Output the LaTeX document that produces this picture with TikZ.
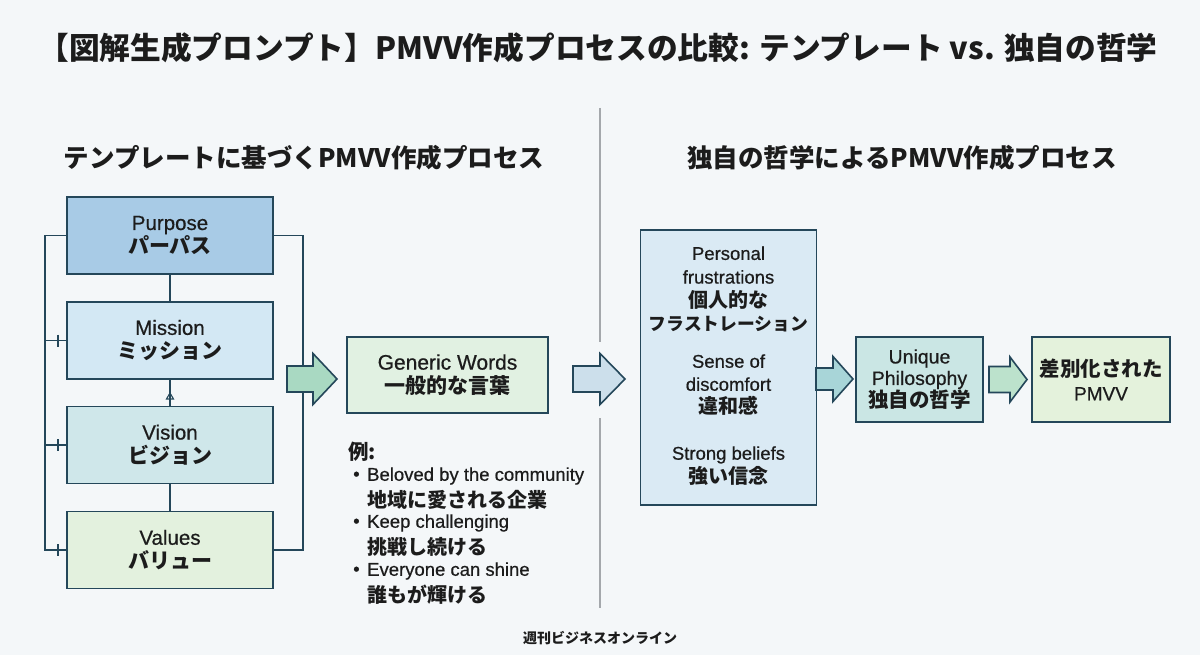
\documentclass[tikz,border=0pt]{standalone}
\usepackage{fontspec}
\setmainfont{Noto Sans CJK JP}
\newfontfamily\jp{Noto Sans CJK JP}
\newfontfamily\en{Liberation Sans}[FakeBold=0.6]
\definecolor{bg}{HTML}{F4F7F9}
\definecolor{bd}{HTML}{24475A}
\definecolor{tx}{HTML}{1C1C1C}
\definecolor{purp}{HTML}{A8CBE6}
\definecolor{miss}{HTML}{D3E8F4}
\definecolor{visi}{HTML}{CFE7EA}
\definecolor{valu}{HTML}{E3F1DE}
\definecolor{genf}{HTML}{E1F1E2}
\definecolor{bigf}{HTML}{DAEAF4}
\definecolor{uniq}{HTML}{CAE6E4}
\definecolor{finf}{HTML}{E4F2DC}
\definecolor{arA}{HTML}{A9D9C2}
\definecolor{arB}{HTML}{CCDFEB}
\definecolor{arC}{HTML}{A8D5D8}
\definecolor{arD}{HTML}{BCE2CC}
\definecolor{divc}{HTML}{A4A8AC}
\newcommand\EN[1]{{\en\fontsize{20.5}{24}\selectfont #1}}
\newcommand\ENs[1]{{\en\fontsize{18.5}{24}\selectfont #1}}
\newcommand\JB[1]{{\jp\bfseries\fontsize{21}{24}\selectfont #1}}
\newcommand\JBs[1]{{\jp\bfseries\fontsize{20}{24}\selectfont #1}}
\newcommand\blockarrow[7]{%
  \filldraw[barrow, fill=#1] (#2,#5-#6) -- (#3,#5-#6) -- (#3,#5-#7) -- (#4,#5) -- (#3,#5+#7) -- (#3,#5+#6) -- (#2,#5+#6) -- cycle;}
\begin{document}
\begin{tikzpicture}[x=1pt,y=-1pt,
  box/.style={draw=bd, line width=1.8pt, align=center, inner sep=0pt, text=tx,
    font=\fontsize{20}{24}\selectfont},
  lbox/.style={box, minimum width=206pt, minimum height=77pt},
  conn/.style={draw=bd, line width=1.8pt},
  tick/.style={draw=bd, line width=1.5pt},
  barrow/.style={draw=bd, line width=1.6pt, line join=miter},
  txt/.style={text=tx, inner sep=0pt, align=center, font=\fontsize{20}{24}\selectfont},
  divider/.style={draw=divc, line width=1.2pt}]
\fill[bg] (0,0) rectangle (1200,655);
\useasboundingbox (0,0) rectangle (1200,655);

% titles
\node[txt, font=\fontsize{30.7}{31}\selectfont\bfseries] (title) at (598,48)
  {【図解生成プロンプト】PMVV作成プロセスの比較: テンプレート vs. 独自の哲学};
\node[txt, font=\fontsize{25.5}{26}\selectfont\bfseries] (lsub) at (304,158)
  {テンプレートに基づくPMVV作成プロセス};
\node[txt, font=\fontsize{25.5}{26}\selectfont\bfseries] (rsub) at (902,158)
  {独自の哲学によるPMVV作成プロセス};

% divider
\draw[divider] (600,108) -- (600,342);
\draw[divider] (600,418) -- (600,608);

% left stack
\node[lbox, fill=purp] (purpose) at (170,235.5) {\EN{Purpose}\\\JB{パーパス}};
\node[lbox, fill=miss] (mission) at (170,340.5) {\EN{Mission}\\\JB{ミッション}};
\node[lbox, fill=visi] (vision) at (170,445) {\EN{Vision}\\\JB{ビジョン}};
\node[lbox, fill=valu] (values) at (170,550) {\EN{Values}\\\JB{バリュー}};

\draw[conn] (purpose.south) -- (mission.north);
\draw[conn] (mission.south) -- (vision.north);
\draw[conn] (vision.south) -- (values.north);
\draw[tick, line width=1.1pt] (166.5,399) -- (170,393) -- (173.5,399) -- cycle;

\coordinate (lbx) at (45,0);
\coordinate (rbx) at (303,0);
\draw[conn] (purpose.west) -- (lbx |- purpose.west) -- (lbx |- values.west) -- (values.west);
\draw[conn] (lbx |- mission.west) -- (mission.west);
\draw[conn] (lbx |- vision.west) -- (vision.west);
\foreach \n in {mission,vision,values}
  \draw[tick] ([xshift=13pt]lbx |- \n.west) ++(0,-6) -- ++(0,12);
\draw[conn] (purpose.east) -- (rbx |- purpose.east) -- (rbx |- values.east) -- (values.east);

% arrow 1
\blockarrow{arA}{287}{313}{337}{379}{13}{25.5}

% generic words
\node[box, fill=genf, minimum width=201pt, minimum height=76pt] (generic) at (447.5,375)
  {{\en\fontsize{21}{24}\selectfont Generic Words}\\\JB{一般的な言葉}};

\node[txt, anchor=west, font=\jp\bfseries\fontsize{20.5}{24}\selectfont] (rei) at (348,452) {例:};
\node[txt, anchor=west] (b1) at (353,476) {\ENs{•}};
\node[txt, anchor=west] (e1) at (367,476) {\ENs{Beloved by the community}};
\node[txt, anchor=west] (j1) at (367,499.5) {\JBs{地域に愛される企業}};
\node[txt, anchor=west] (b2) at (353,523) {\ENs{•}};
\node[txt, anchor=west] (e2) at (367,523) {\ENs{Keep challenging}};
\node[txt, anchor=west] (j2) at (367,547) {\JBs{挑戦し続ける}};
\node[txt, anchor=west] (b3) at (353,571) {\ENs{•}};
\node[txt, anchor=west] (e3) at (367,571) {\ENs{Everyone can shine}};
\node[txt, anchor=west] (j3) at (367,595) {\JBs{誰もが輝ける}};

% arrow 2
\blockarrow{arB}{573}{600}{625}{379}{13}{25.5}

% big box
\node[box, fill=bigf, minimum width=176pt, minimum height=275pt] (feel) at (728.5,367.5) {};
\node[txt, font=\fontsize{20}{23.7}\selectfont] (pf) at (728.5,289.5)
  {\ENs{Personal}\\\ENs{frustrations}\\\JBs{個人的な}\\{\jp\bfseries\fontsize{17.8}{24}\selectfont フラストレーション}};
\node[txt, font=\fontsize{20}{23}\selectfont] (sd) at (728.5,385)
  {\ENs{Sense of}\\\ENs{discomfort}\\\JBs{違和感}};
\node[txt, font=\fontsize{20}{24}\selectfont] (sb) at (728.5,466)
  {\ENs{Strong beliefs}\\\JBs{強い信念}};

% arrow 3
\blockarrow{arC}{816}{833}{853}{379}{11}{22.5}

% unique
\node[box, fill=uniq, minimum width=127pt, minimum height=85pt, font=\fontsize{20}{21.5}\selectfont] (unique) at (919.5,379.5)
  {{\en\fontsize{19.5}{21.5}\selectfont Unique}\\{\en\fontsize{19.5}{21.5}\selectfont Philosophy}\\{\jp\bfseries\fontsize{20.5}{21.5}\selectfont 独自の哲学}};

% arrow 4
\blockarrow{arD}{989}{1010}{1027}{379.5}{13}{22.5}

% final
\node[box, fill=finf, minimum width=138pt, minimum height=85pt] (final) at (1101,379.5)
  {{\jp\bfseries\fontsize{20.5}{24}\selectfont 差別化された}\\{\en\fontsize{19}{24}\selectfont PMVV}};

% footer
\node[txt, font=\jp\bfseries\fontsize{14}{16}\selectfont] (footer) at (600,638) {週刊ビジネスオンライン};
\end{tikzpicture}
\end{document}
